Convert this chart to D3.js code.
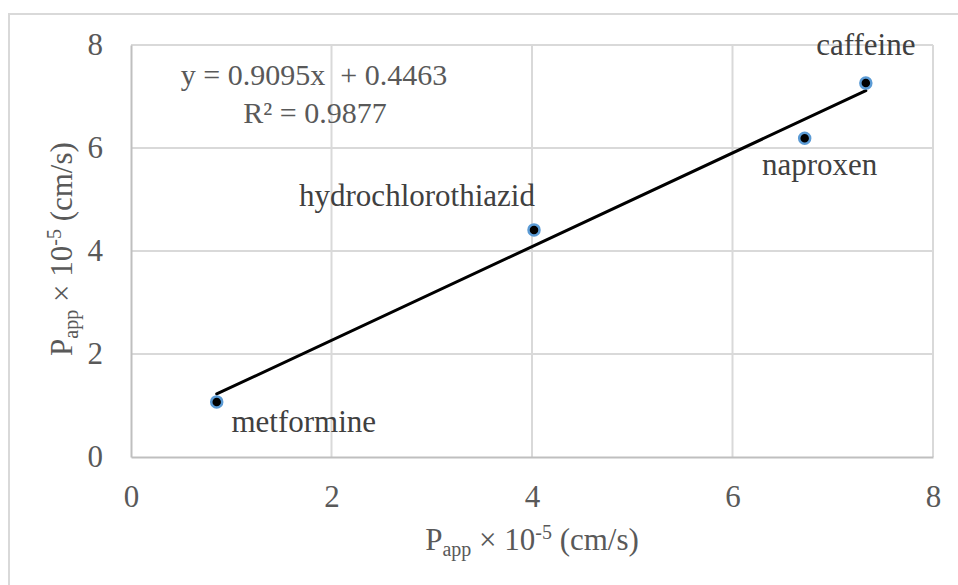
<!DOCTYPE html>
<html>
<head>
<meta charset="utf-8">
<script src="https://cdn.jsdelivr.net/npm/d3@7"></script>
<style>
  html, body { margin: 0; padding: 0; background: #fff; }
  svg { display: block; }
  svg text, svg tspan { font-family: "Liberation Serif", "Times New Roman", "DejaVu Serif", serif !important; }
</style>
</head>
<body>
<div id="chart"></div>
<script>
// ---- data ----
const names = ["metformine", "hydrochlorothiazid", "naproxen", "caffeine"];
const xValues = [0.855, 4.02, 6.72, 7.33];
const yValues = [1.07, 4.41, 6.19, 7.26];
const trendSlope = 0.9095;
const trendIntercept = 0.4463;
const rSquared = 0.9877;
const xTicks = [0, 2, 4, 6, 8];
const yTicks = [0, 2, 4, 6, 8];

// ---- layout / style ----
const W = 958, H = 585;
const FONT = "'Liberation Serif', 'Times New Roman', 'DejaVu Serif', serif";
const plot = { left: 131, right: 933, top: 45, bottom: 457 };
const labelOffset = {
  metformine: [87, 30],
  hydrochlorothiazid: [-117, -24],
  naproxen: [15, 37],
  caffeine: [0, -28]
};

const svg = d3.select("#chart").append("svg").attr("width", W).attr("height", H)
  .attr("font-family", FONT);

// outer chart border
svg.append("rect").attr("x", 9).attr("y", 14).attr("width", W + 20).attr("height", H + 20)
  .attr("fill", "none").attr("stroke", "#d9d9d9").attr("stroke-width", 2);

const x = d3.scaleLinear().domain([0, 8]).range([plot.left, plot.right]);
const y = d3.scaleLinear().domain([0, 8]).range([plot.bottom, plot.top]);

// gridlines
const grid = svg.append("g");
grid.selectAll("line.vx").data(xTicks.filter(d => d > 0)).join("line")
  .attr("x1", d => x(d)).attr("x2", d => x(d))
  .attr("y1", plot.top).attr("y2", plot.bottom)
  .attr("stroke", "#d9d9d9").attr("stroke-width", 2);
grid.selectAll("line.hy").data(yTicks.filter(d => d > 0)).join("line")
  .attr("y1", d => y(d)).attr("y2", d => y(d))
  .attr("x1", plot.left).attr("x2", plot.right)
  .attr("stroke", "#d9d9d9").attr("stroke-width", 2);

// axes
const xAxis = d3.axisBottom(x).tickValues(xTicks).tickSize(0).tickPadding(28);
const gx = svg.append("g").attr("transform", `translate(0,${plot.bottom})`).call(xAxis)
  .attr("font-family", FONT);
gx.select(".domain").attr("stroke", "#bfbfbf").attr("stroke-width", 2);
gx.selectAll("text").attr("font-size", 31).attr("fill", "#595959");

const yAxis = d3.axisLeft(y).tickValues(yTicks).tickSize(0).tickPadding(28);
const gy = svg.append("g").attr("transform", `translate(${plot.left},0)`).call(yAxis)
  .attr("font-family", FONT);
gy.select(".domain").attr("stroke", "#bfbfbf").attr("stroke-width", 2);
gy.selectAll("text").attr("font-size", 31).attr("fill", "#595959");

// trendline
const xMin = d3.min(xValues), xMax = d3.max(xValues);
svg.append("line")
  .attr("x1", x(xMin)).attr("y1", y(trendSlope * xMin + trendIntercept))
  .attr("x2", x(xMax)).attr("y2", y(trendSlope * xMax + trendIntercept))
  .attr("stroke", "#000").attr("stroke-width", 3).attr("stroke-linecap", "round");

// points
const pts = names.map((n, i) => ({ name: n, x: xValues[i], y: yValues[i] }));
svg.append("g").selectAll("circle").data(pts).join("circle")
  .attr("cx", d => x(d.x)).attr("cy", d => y(d.y)).attr("r", 5.5)
  .attr("fill", "#000").attr("stroke", "#5b9bd5").attr("stroke-width", 2.5);

// data labels
svg.append("g").selectAll("text").data(pts).join("text")
  .attr("x", d => x(d.x) + labelOffset[d.name][0])
  .attr("y", d => y(d.y) + labelOffset[d.name][1])
  .attr("text-anchor", "middle").attr("font-size", 31).attr("fill", "#404040")
  .text(d => d.name);

// equation
svg.append("text").attr("x", 314).attr("y", 85).attr("text-anchor", "middle")
  .attr("font-size", 30).attr("fill", "#595959").attr("xml:space", "preserve")
  .text(`y = ${trendSlope}x  + ${trendIntercept}`);
const r2 = svg.append("text").attr("x", 315).attr("y", 123).attr("text-anchor", "middle")
  .attr("font-size", 30).attr("fill", "#595959");
r2.append("tspan").text("R²");
r2.append("tspan").text(` = ${rSquared}`);

// axis titles
function axisTitle(sel) {
  sel.attr("font-size", 31).attr("fill", "#595959").attr("text-anchor", "middle");
  sel.append("tspan").text("P");
  sel.append("tspan").attr("font-size", 20).attr("dy", 6).text("app");
  sel.append("tspan").attr("dy", -6).text(" × 10");
  sel.append("tspan").attr("font-size", 20).attr("dy", -11).text("-5");
  sel.append("tspan").attr("dy", 11).text(" (cm/s)");
}
svg.append("text").attr("x", 532).attr("y", 550).call(axisTitle);
svg.append("text").attr("transform", "translate(72,249) rotate(-90)").call(axisTitle);
</script>
</body>
</html>
